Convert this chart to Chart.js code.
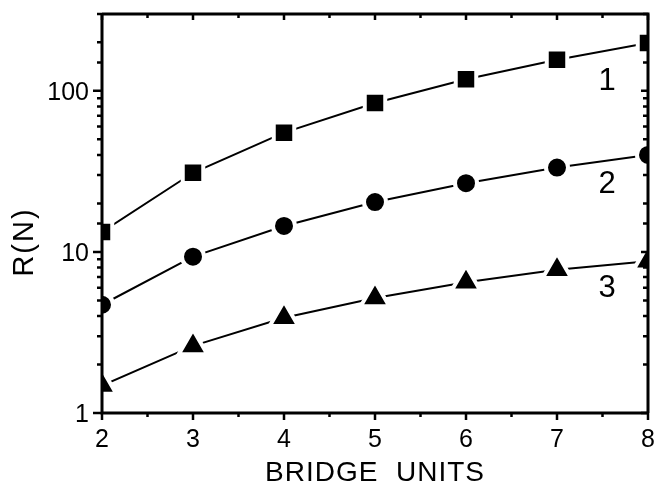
<!DOCTYPE html>
<html>
<head>
<meta charset="utf-8">
<script src="https://cdn.jsdelivr.net/npm/chart.js@4.4.1/dist/chart.umd.min.js"></script>
<style>
html,body{margin:0;padding:0;background:#fff;}
#wrap{width:656px;height:482px;}
</style>
</head>
<body>
<div id="wrap"><canvas id="c" width="656" height="482"></canvas></div>
<script>
// ---- data ----
const bridgeUnits = [2, 3, 4, 5, 6, 7, 8];
const series1 = [13.3, 31, 55, 84, 118, 156, 198];   // squares
const series2 = [4.7, 9.35, 14.5, 20.4, 26.7, 33.4, 40]; // circles
const series3 = [1.48, 2.61, 3.9, 5.18, 6.48, 7.76, 8.76]; // triangles
const seriesNames = ['1', '2', '3'];
const seriesLabelX = [7.55, 7.55, 7.55];
const seriesLabelY = [119, 27.2, 6.15];
const xTickLabels = ['2', '3', '4', '5', '6', '7', '8'];
const yTickValues = [1, 10, 100];
const yTickLabels = ['1', '10', '100'];
const xTitle = 'BRIDGE  UNITS';
const yTitle = 'R(N)';

const FONT = '"Liberation Sans", Arial, Helvetica, sans-serif';

function pts(ys) { return bridgeUnits.map((x, i) => ({ x: x, y: ys[i] })); }

function ds(label, ys, style, r) {
  return {
    label: label, data: pts(ys), showLine: true,
    borderColor: '#000', borderWidth: 2, tension: 0,
    pointStyle: style, pointRadius: r, pointHoverRadius: r,
    pointBackgroundColor: '#000', pointBorderColor: '#fff', pointBorderWidth: 4,
    clip: 0
  };
}

const framePlugin = {
  id: 'frame',
  afterDraw(chart) {
    const ctx = chart.ctx, a = chart.chartArea;
    const xs = chart.scales.x, ys = chart.scales.y;
    ctx.save();
    ctx.strokeStyle = '#000';
    ctx.fillStyle = '#000';
    // frame
    ctx.lineWidth = 3;
    ctx.beginPath();
    ctx.moveTo(a.left, a.top); ctx.lineTo(a.left, a.bottom); ctx.lineTo(a.right, a.bottom);
    ctx.stroke();
    ctx.lineWidth = 3;
    ctx.beginPath();
    ctx.moveTo(a.left, a.top); ctx.lineTo(a.right, a.top); ctx.lineTo(a.right, a.bottom);
    ctx.stroke();
    // x ticks
    ctx.lineWidth = 2.5;
    xs.ticks.forEach(t => {
      const px = xs.getPixelForValue(t.value);
      const major = Math.abs(t.value - Math.round(t.value)) < 1e-6;
      const lo = major ? 7 : 4, li = major ? 6 : 4;
      ctx.beginPath();
      ctx.moveTo(px, a.bottom); ctx.lineTo(px, a.bottom + lo);
      ctx.moveTo(px, a.top); ctx.lineTo(px, a.top + li);
      ctx.stroke();
    });
    // y ticks
    ys.ticks.forEach(t => {
      const v = t.value;
      if (v < ys.min - 1e-9 || v > ys.max + 1e-9) return;
      const py = ys.getPixelForValue(v);
      const lg = Math.log10(v);
      const major = Math.abs(lg - Math.round(lg)) < 1e-6;
      const lo = major ? 9 : 5, li = major ? 7 : 5;
      ctx.beginPath();
      ctx.moveTo(a.left, py); ctx.lineTo(a.left - lo, py);
      ctx.moveTo(a.right, py); ctx.lineTo(a.right - li, py);
      ctx.stroke();
    });
    // x tick labels
    ctx.font = '25px ' + FONT;
    ctx.textAlign = 'center';
    ctx.textBaseline = 'alphabetic';
    bridgeUnits.forEach((v, i) => {
      ctx.fillText(xTickLabels[i], xs.getPixelForValue(v), a.bottom + 34);
    });
    // y tick labels
    ctx.textAlign = 'right';
    yTickValues.forEach((v, i) => {
      ctx.fillText(yTickLabels[i], a.left - 13, ys.getPixelForValue(v) + 9);
    });
    // series labels
    ctx.font = '31px ' + FONT;
    ctx.textAlign = 'center';
    seriesNames.forEach((n, i) => {
      ctx.fillText(n, xs.getPixelForValue(seriesLabelX[i]), ys.getPixelForValue(seriesLabelY[i]) + 11);
    });
    // axis titles
    ctx.font = '28px ' + FONT;
    ctx.letterSpacing = '1px';
    ctx.textAlign = 'center';
    ctx.fillText(xTitle, (a.left + a.right) / 2, 481);
    ctx.save();
    ctx.translate(33, 242);
    ctx.rotate(-Math.PI / 2);
    ctx.font = '29px ' + FONT;
    ctx.letterSpacing = '2px';
    ctx.textBaseline = 'alphabetic';
    ctx.fillText(yTitle, 0, 0);
    ctx.restore();
    ctx.restore();
  }
};

new Chart(document.getElementById('c'), {
  type: 'scatter',
  data: {
    datasets: [
      ds(seriesNames[0], series1, 'rect', 14.5),
      ds(seriesNames[1], series2, 'circle', 11),
      ds(seriesNames[2], series3, 'triangle', 16.5)
    ]
  },
  options: {
    responsive: false,
    animation: false,
    devicePixelRatio: 1,
    layout: { autoPadding: false, padding: { top: 14, right: 8, left: 0, bottom: 0 } },
    plugins: { legend: { display: false }, tooltip: { enabled: false }, title: { display: false } },
    scales: {
      x: {
        type: 'linear', min: 2, max: 8,
        ticks: { display: false, stepSize: 0.5 },
        grid: { display: false }, border: { display: false },
        afterFit(s) { s.height = 69; }
      },
      y: {
        type: 'logarithmic', min: 1, max: 300,
        ticks: { display: false },
        grid: { display: false }, border: { display: false },
        afterFit(s) { s.width = 102; }
      }
    }
  },
  plugins: [framePlugin]
});
</script>
</body>
</html>
